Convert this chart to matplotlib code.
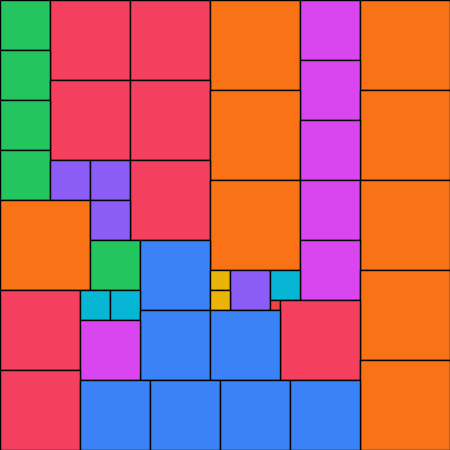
import matplotlib
matplotlib.use("Agg")
import matplotlib.pyplot as plt
from matplotlib.patches import Rectangle
import numpy as np

# canvas side in grid units (1 unit = 10 px)
CANVAS = 45

# square sizes in placement order (grid units)
sizes = [5, 8, 8, 9, 6, 9,
         5, 6, 8, 8, 9, 9,
         5, 6, 5, 4, 4, 8,
         9, 6, 9, 9, 4,
         5, 7, 6, 2, 4, 3, 9,
         8, 3, 3, 2, 1, 8,
         7, 7, 6, 9, 8,
         7, 7, 7, 7]

# colour per size
size_colors = {
    1: "#ef4444",
    2: "#eab308",
    3: "#06b6d4",
    4: "#8b5cf6",
    5: "#22c55e",
    6: "#d946ef",
    7: "#3b82f6",
    8: "#f43f5e",
    9: "#f97316",
}


def first_fit(sizes, side):
    # place each square at the first free spot, scanning rows top to bottom
    grid = np.zeros((side, side), dtype=bool)
    placed = []
    for s in sizes:
        done = False
        for y in range(side - s + 1):
            for x in range(side - s + 1):
                if not grid[y:y + s, x:x + s].any():
                    grid[y:y + s, x:x + s] = True
                    placed.append((x, y, s))
                    done = True
                    break
            if done:
                break
    return placed


fig = plt.figure(figsize=(4.5, 4.5), dpi=100)
ax = fig.add_axes([0, 0, 1, 1])

for x, y, s in first_fit(sizes, CANVAS):
    ax.add_patch(Rectangle((x, y), s, s, facecolor=size_colors[s],
                           edgecolor="black", linewidth=1.0))

ax.set_xlim(0, CANVAS)
ax.set_ylim(CANVAS, 0)
ax.axis("off")

fig.savefig("out.png", dpi=100)
